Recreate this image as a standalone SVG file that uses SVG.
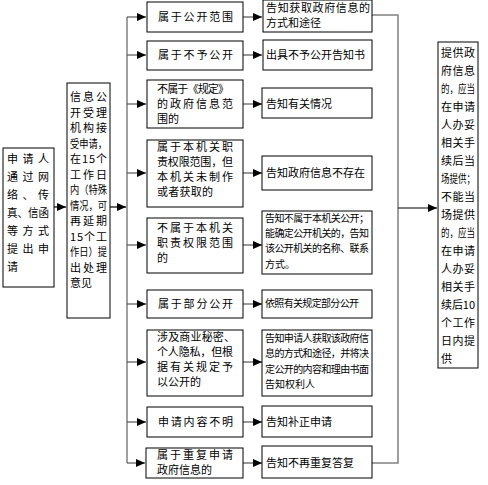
<svg xmlns="http://www.w3.org/2000/svg" width="488" height="485" viewBox="0 0 488 485">
<defs>
<style>
.b{fill:#fff;stroke:#000;stroke-width:1}
.t{font-family:"Noto Sans CJK SC","Noto Sans",sans-serif;font-size:11px;fill:#000}
.s{font-family:"Noto Sans CJK SC","Noto Sans",sans-serif;font-size:10px;fill:#000}
.bus{stroke:#808080;stroke-width:1.5;fill:none}
.c{stroke:#555;stroke-width:1.2;fill:none}
.a{stroke:#000;stroke-width:1.2;fill:none}
</style>
<marker id="ah" markerWidth="9" markerHeight="8" refX="9" refY="4" orient="auto" markerUnits="userSpaceOnUse">
<path d="M0,0 L9,4 L0,8 Z" fill="#000"/>
</marker>
</defs>
<rect width="488" height="485" fill="#fff"/>

<g id="connectors">
<line class="a" x1="54" y1="207" x2="66" y2="207" marker-end="url(#ah)"/>
<line class="a" x1="110" y1="207" x2="126" y2="207" marker-end="url(#ah)"/>
<line class="bus" x1="127" y1="17" x2="127" y2="463"/>
<line class="c" x1="127" y1="17" x2="146" y2="17" marker-end="url(#ah)"/>
<line class="c" x1="127" y1="55" x2="146" y2="55" marker-end="url(#ah)"/>
<line class="c" x1="127" y1="104" x2="146" y2="104" marker-end="url(#ah)"/>
<line class="c" x1="127" y1="173" x2="146" y2="173" marker-end="url(#ah)"/>
<line class="c" x1="127" y1="245" x2="146" y2="245" marker-end="url(#ah)"/>
<line class="c" x1="127" y1="304" x2="146" y2="304" marker-end="url(#ah)"/>
<line class="c" x1="127" y1="362" x2="146" y2="362" marker-end="url(#ah)"/>
<line class="c" x1="127" y1="422" x2="146" y2="422" marker-end="url(#ah)"/>
<line class="c" x1="127" y1="463" x2="145" y2="463" marker-end="url(#ah)"/>
<line class="c" x1="243" y1="17" x2="262" y2="17" marker-end="url(#ah)"/>
<line class="c" x1="243" y1="55" x2="262" y2="55" marker-end="url(#ah)"/>
<line class="c" x1="243" y1="104" x2="262" y2="104" marker-end="url(#ah)"/>
<line class="c" x1="243" y1="173" x2="262" y2="173" marker-end="url(#ah)"/>
<line class="c" x1="243" y1="245" x2="262" y2="245" marker-end="url(#ah)"/>
<line class="c" x1="243" y1="304" x2="262" y2="304" marker-end="url(#ah)"/>
<line class="c" x1="243" y1="362" x2="262" y2="362" marker-end="url(#ah)"/>
<line class="c" x1="243" y1="422" x2="262" y2="422" marker-end="url(#ah)"/>
<line class="c" x1="243" y1="463" x2="262" y2="463" marker-end="url(#ah)"/>
<polyline class="bus" points="372,15 398,15 398,463 372,463"/>
<line class="a" x1="398" y1="208" x2="437" y2="208" marker-end="url(#ah)"/>
</g>

<g id="n-apply">
<rect class="b" x="3" y="148" width="51" height="139"/>
<text class="t" x="7" y="163" textLength="42" lengthAdjust="spacing">申请人</text>
<text class="t" x="7" y="181" textLength="42" lengthAdjust="spacing">通过网</text>
<text class="t" x="7" y="199" textLength="42" lengthAdjust="spacing">络、传</text>
<text class="t" x="7" y="217" textLength="42" lengthAdjust="spacingAndGlyphs">真、信函</text>
<text class="t" x="7" y="235" textLength="42" lengthAdjust="spacing">等方式</text>
<text class="t" x="7" y="253" textLength="42" lengthAdjust="spacing">提出申</text>
<text class="t" x="7" y="271">请</text>
</g>

<g id="n-accept">
<rect class="b" x="67" y="83" width="43" height="235"/>
<text class="t" x="70" y="101" textLength="37" lengthAdjust="spacing">信息公</text>
<text class="t" x="70" y="116.5" textLength="37" lengthAdjust="spacing">开受理</text>
<text class="t" x="70" y="132" textLength="37" lengthAdjust="spacing">机构接</text>
<text class="t" x="70" y="147.5" textLength="37" lengthAdjust="spacingAndGlyphs">受申请，</text>
<text class="t" x="70" y="163" textLength="37" lengthAdjust="spacing">在15个</text>
<text class="t" x="70" y="178.5" textLength="37" lengthAdjust="spacing">工作日</text>
<text class="t" x="70" y="194" textLength="37" lengthAdjust="spacingAndGlyphs">内（特殊</text>
<text class="t" x="70" y="209.5" textLength="37" lengthAdjust="spacingAndGlyphs">情况，可</text>
<text class="t" x="70" y="225" textLength="37" lengthAdjust="spacing">再延期</text>
<text class="t" x="70" y="240.5" textLength="37" lengthAdjust="spacing">15个工</text>
<text class="t" x="70" y="256" textLength="37" lengthAdjust="spacingAndGlyphs">作日）提</text>
<text class="t" x="70" y="271.5" textLength="37" lengthAdjust="spacing">出处理</text>
<text class="t" x="70" y="287">意见</text>
</g>

<g id="m1">
<rect class="b" x="147" y="2" width="96" height="30"/>
<text class="t" x="158" y="21" textLength="75" lengthAdjust="spacing">属于公开范围</text>
</g>
<g id="m2">
<rect class="b" x="147" y="41" width="96" height="29"/>
<text class="t" x="158" y="59" textLength="75" lengthAdjust="spacing">属于不予公开</text>
</g>
<g id="m3">
<rect class="b" x="147" y="80" width="96" height="48"/>
<text class="t" x="157" y="93" textLength="72" lengthAdjust="spacing">不属于《规定》</text>
<text class="t" x="157" y="108" textLength="76" lengthAdjust="spacing">的政府信息范</text>
<text class="t" x="157" y="123">围的</text>
</g>
<g id="m4">
<rect class="b" x="147" y="140" width="96" height="67"/>
<text class="t" x="157" y="151" textLength="76" lengthAdjust="spacing">属于本机关职</text>
<text class="t" x="157" y="166" textLength="76" lengthAdjust="spacing">责权限范围，但</text>
<text class="t" x="157" y="181" textLength="76" lengthAdjust="spacing">本机关未制作</text>
<text class="t" x="157" y="196" textLength="56" lengthAdjust="spacing">或者获取的</text>
</g>
<g id="m5">
<rect class="b" x="147" y="218" width="96" height="55"/>
<text class="t" x="157" y="232" textLength="76" lengthAdjust="spacing">不属于本机关</text>
<text class="t" x="157" y="247" textLength="76" lengthAdjust="spacing">职责权限范围</text>
<text class="t" x="157" y="262">的</text>
</g>
<g id="m6">
<rect class="b" x="147" y="290" width="96" height="28"/>
<text class="t" x="158" y="308" textLength="75" lengthAdjust="spacing">属于部分公开</text>
</g>
<g id="m7">
<rect class="b" x="147" y="330" width="96" height="66"/>
<text class="t" x="157" y="341" textLength="78" lengthAdjust="spacing">涉及商业秘密、</text>
<text class="t" x="157" y="356" textLength="76" lengthAdjust="spacing">个人隐私，但根</text>
<text class="t" x="157" y="371" textLength="76" lengthAdjust="spacing">据有关规定予</text>
<text class="t" x="157" y="386">以公开的</text>
</g>
<g id="m8">
<rect class="b" x="147" y="407" width="96" height="30"/>
<text class="t" x="158" y="426" textLength="75" lengthAdjust="spacing">申请内容不明</text>
</g>
<g id="m9">
<rect class="b" x="146" y="448" width="97" height="30"/>
<text class="t" x="157" y="459" textLength="76" lengthAdjust="spacing">属于重复申请</text>
<text class="t" x="157" y="474">政府信息的</text>
</g>

<g id="r1">
<rect class="b" x="263" y="0" width="109" height="32"/>
<text class="t" x="266" y="12" textLength="104" lengthAdjust="spacing">告知获取政府信息的</text>
<text class="t" x="266" y="27">方式和途径</text>
</g>
<g id="r2">
<rect class="b" x="263" y="40" width="109" height="30"/>
<text class="t" x="266" y="59">出具不予公开告知书</text>
</g>
<g id="r3">
<rect class="b" x="262" y="88" width="110" height="30"/>
<text class="t" x="266" y="108">告知有关情况</text>
</g>
<g id="r4">
<rect class="b" x="262" y="156" width="110" height="34"/>
<text class="t" x="266" y="177">告知政府信息不存在</text>
</g>
<g id="r5">
<rect class="b" x="262" y="211" width="110" height="63"/>
<text class="s" x="265" y="222" textLength="104" lengthAdjust="spacing">告知不属于本机关公开；</text>
<text class="s" x="265" y="237" textLength="104" lengthAdjust="spacing">能确定公开机关的，告知</text>
<text class="s" x="265" y="252" textLength="104" lengthAdjust="spacing">该公开机关的名称、联系</text>
<text class="s" x="265" y="268">方式。</text>
</g>
<g id="r6">
<rect class="b" x="262" y="290" width="110" height="28"/>
<text class="s" x="265" y="307" textLength="94" lengthAdjust="spacing">依照有关规定部分公开</text>
</g>
<g id="r7">
<rect class="b" x="262" y="330" width="110" height="66"/>
<text class="s" x="265" y="342" textLength="104" lengthAdjust="spacing">告知申请人获取该政府信</text>
<text class="s" x="265" y="357" textLength="104" lengthAdjust="spacing">息的方式和途径，并将决</text>
<text class="s" x="265" y="373" textLength="104" lengthAdjust="spacing">定公开的内容和理由书面</text>
<text class="s" x="265" y="388">告知权利人</text>
</g>
<g id="r8">
<rect class="b" x="262" y="406" width="110" height="31"/>
<text class="t" x="266" y="426">告知补正申请</text>
</g>
<g id="r9">
<rect class="b" x="262" y="446" width="110" height="32"/>
<text class="t" x="266" y="467">告知不再重复答复</text>
</g>

<g id="n-provide">
<rect class="b" x="438" y="42" width="40" height="326"/>
<text class="t" x="441" y="57" textLength="34" lengthAdjust="spacing">提供政</text>
<text class="t" x="441" y="75" textLength="34" lengthAdjust="spacing">府信息</text>
<text class="t" x="441" y="93" textLength="34" lengthAdjust="spacingAndGlyphs">的，应当</text>
<text class="t" x="441" y="111" textLength="34" lengthAdjust="spacing">在申请</text>
<text class="t" x="441" y="129" textLength="34" lengthAdjust="spacing">人办妥</text>
<text class="t" x="441" y="147" textLength="34" lengthAdjust="spacing">相关手</text>
<text class="t" x="441" y="165" textLength="34" lengthAdjust="spacing">续后当</text>
<text class="t" x="441" y="183" textLength="34" lengthAdjust="spacingAndGlyphs">场提供；</text>
<text class="t" x="441" y="201" textLength="34" lengthAdjust="spacing">不能当</text>
<text class="t" x="441" y="219" textLength="34" lengthAdjust="spacing">场提供</text>
<text class="t" x="441" y="237" textLength="34" lengthAdjust="spacingAndGlyphs">的，应当</text>
<text class="t" x="441" y="255" textLength="34" lengthAdjust="spacing">在申请</text>
<text class="t" x="441" y="273" textLength="34" lengthAdjust="spacing">人办妥</text>
<text class="t" x="441" y="291" textLength="34" lengthAdjust="spacing">相关手</text>
<text class="t" x="441" y="309" textLength="34" lengthAdjust="spacing">续后10</text>
<text class="t" x="441" y="327" textLength="34" lengthAdjust="spacing">个工作</text>
<text class="t" x="441" y="345" textLength="34" lengthAdjust="spacing">日内提</text>
<text class="t" x="441" y="363">供</text>
</g>
</svg>
